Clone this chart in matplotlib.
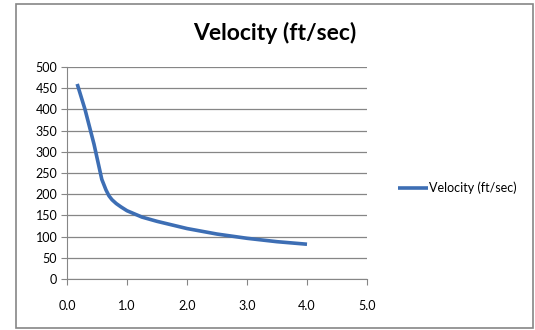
import matplotlib
matplotlib.use('Agg')
import matplotlib.pyplot as plt
from matplotlib.patches import Rectangle

plt.rcParams['font.family'] = ['Lato', 'DejaVu Sans']

# data
time_s = [0.17, 0.3, 0.45, 0.58, 0.65, 0.7, 0.75, 0.82, 0.9, 1.0, 1.25,
          1.5, 2.0, 2.5, 3.0, 3.5, 4.0]
velocity = [460, 400, 318, 235, 210, 196, 187, 178, 170, 161, 146,
            136, 119, 106, 96, 88, 82]
series_name = 'Velocity (ft/sec)'
x_ticks = [0, 1, 2, 3, 4, 5]
y_ticks = list(range(0, 501, 50))

fig = plt.figure(figsize=(5.35, 3.3), dpi=100)
ax = fig.add_axes([67 / 535, 1 - 279 / 330, 300 / 535, 212 / 330])

ax.plot(time_s, velocity, color='#3d6eb4', lw=2.6, label=series_name,
        solid_capstyle='butt', solid_joinstyle='round')

ax.set_xlim(0, 5)
ax.set_ylim(0, 500)
ax.set_xticks(x_ticks)
ax.set_xticklabels(['%.1f' % v for v in x_ticks])
ax.set_yticks(y_ticks)
ax.grid(axis='y', color='#868686', lw=0.9)
ax.set_axisbelow(True)
for side in ['top', 'right']:
    ax.spines[side].set_visible(False)
for side in ['left', 'bottom']:
    ax.spines[side].set_color('#868686')
ax.tick_params(axis='x', direction='out', length=4, color='#868686',
               labelsize=9, pad=11)
ax.tick_params(axis='y', direction='out', length=4, color='#868686',
               labelsize=9, pad=3)

fig.text(0.514, 0.9, 'Velocity (ft/sec)', ha='center', va='center',
         fontsize=16.5, fontweight='bold')

fig.legend(loc='center left', bbox_to_anchor=(393 / 535, 1 - 188 / 330),
           frameon=False, fontsize=9, handlelength=2.4, handletextpad=0.1,
           borderaxespad=0)

fig.patches.append(Rectangle((16 / 535, 2 / 330), 517 / 535, 324 / 330,
                             transform=fig.transFigure, fill=False,
                             edgecolor='#868686', lw=1.2))

fig.savefig('out.png', dpi=100)
